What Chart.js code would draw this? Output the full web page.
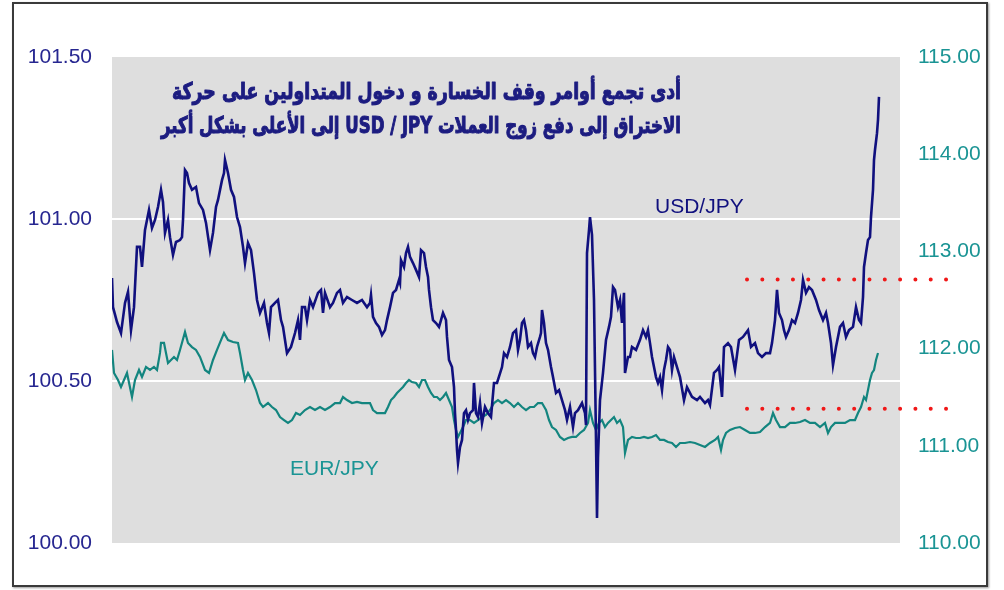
<!DOCTYPE html>
<html><head><meta charset="utf-8">
<script src="https://cdn.jsdelivr.net/npm/chart.js@4.4.1/dist/chart.umd.min.js"></script>
<style>
html,body{margin:0;padding:0;background:#fff;}
#wrap{position:relative;width:1004px;height:590px;}
#frame{position:absolute;left:12px;top:2px;width:976px;height:585px;border:2px solid #3a3a3a;box-sizing:border-box;box-shadow:1px 1px 2px #999;}
canvas{position:absolute;left:0;top:0;}
</style></head>
<body><div id="wrap"><div id="frame"></div><canvas id="c" width="1004" height="590"></canvas></div>
<script>
// time index (session steps) and USD/JPY-style navy series (left axis)
const usdT = [0,1,5,9,13,16,19,22,25,28,30,33,35,37,40,43,46,49,51,53,56,58,61,64,68,70,71,73,75,77,80,84,87,91,94,98,101,104,106,110,112,113,116,119,122,125,128,131,133,136,139,142,145,148,152,155,157,159,163,166,169,171,175,179,183,186,188,190,193,195,198,201,206,209,211,213,218,221,225,228,231,235,240,245,250,255,258,259,261,264,267,270,273,275,278,281,284,287,288,289,292,294,296,298,301,304,307,309,312,314,316,317,319,321,324,327,329,331,334,335,337,340,342,343,344,345,346,348,350,352,354,356,358,361,362,364,366,368,370,373,376,379,382,385,390,392,395,398,401,404,406,408,410,412,414,416,419,421,423,425,428,429,430,432,434,436,439,441,444,447,450,453,455,458,461,463,466,470,473,474,475,477,478,480,482,484,485,486,488,491,494,497,499,501,503,506,508,510,512,513,516,518,520,524,528,531,534,536,538,540,542,544,546,548,550,552,554,556,558,560,562,565,568,572,575,580,585,588,593,596,598,602,605,607,610,612,616,619,623,627,631,636,639,643,646,650,654,658,660,663,665,667,670,672,674,677,680,683,686,689,691,694,697,700,704,707,711,714,716,719,721,724,728,731,734,737,741,744,747,749,751,752,754,756,758,759,761,762,763,765,766,767];
const usdVal = [100.818,100.728,100.682,100.648,100.741,100.775,100.657,100.728,100.914,100.914,100.852,100.966,100.997,101.028,100.972,100.997,101.037,101.090,101.052,100.957,100.997,100.944,100.889,100.929,100.935,100.944,100.997,101.151,101.142,101.111,101.090,101.099,101.049,101.028,100.988,100.904,100.957,101.037,101.059,101.120,101.142,101.182,101.142,101.090,101.068,101.006,100.975,100.914,100.864,100.926,100.904,100.833,100.750,100.710,100.741,100.679,100.648,100.728,100.741,100.750,100.688,100.667,100.586,100.605,100.648,100.688,100.627,100.728,100.728,100.688,100.750,100.728,100.772,100.781,100.710,100.772,100.728,100.741,100.772,100.781,100.741,100.759,100.750,100.741,100.750,100.728,100.741,100.765,100.698,100.679,100.667,100.642,100.657,100.688,100.728,100.772,100.781,100.812,100.802,100.873,100.852,100.895,100.914,100.883,100.864,100.843,100.821,100.904,100.895,100.852,100.821,100.781,100.728,100.688,100.679,100.667,100.688,100.710,100.688,100.636,100.565,100.543,100.481,100.401,100.349,100.287,100.247,100.296,100.318,100.401,100.410,100.380,100.401,100.410,100.494,100.401,100.389,100.432,100.370,100.420,100.401,100.389,100.494,100.494,100.543,100.586,100.574,100.605,100.648,100.657,100.596,100.627,100.679,100.688,100.657,100.605,100.617,100.586,100.574,100.605,100.636,100.648,100.719,100.679,100.617,100.596,100.543,100.512,100.463,100.472,100.441,100.410,100.380,100.420,100.358,100.401,100.410,100.432,100.401,100.364,100.895,100.966,101.006,100.951,100.750,100.318,100.077,100.265,100.441,100.525,100.627,100.667,100.698,100.790,100.781,100.728,100.750,100.679,100.772,100.525,100.574,100.574,100.605,100.596,100.627,100.657,100.636,100.657,100.617,100.574,100.543,100.512,100.494,100.512,100.472,100.534,100.565,100.605,100.596,100.534,100.574,100.543,100.512,100.441,100.481,100.451,100.441,100.451,100.432,100.441,100.426,100.525,100.534,100.543,100.451,100.605,100.617,100.605,100.534,100.627,100.636,100.657,100.605,100.617,100.586,100.574,100.586,100.586,100.617,100.688,100.781,100.710,100.688,100.657,100.636,100.657,100.688,100.679,100.710,100.750,100.812,100.772,100.790,100.781,100.750,100.719,100.688,100.710,100.679,100.617,100.549,100.605,100.667,100.679,100.636,100.657,100.667,100.728,100.688,100.679,100.759,100.852,100.895,100.935,100.944,101.006,101.090,101.182,101.213,101.265,101.306,101.377];

// time index and EUR/JPY-style teal series (right axis)
const eurT = [0,2,6,9,12,15,20,23,27,30,34,38,42,45,48,49,52,54,56,59,62,65,68,73,76,80,84,88,93,97,101,105,109,112,116,121,126,128,131,133,136,140,144,148,151,156,160,164,168,172,176,180,184,188,193,198,203,208,213,218,223,228,231,235,240,245,250,254,258,261,265,268,273,276,279,282,285,288,291,294,297,300,304,307,310,313,316,319,322,325,328,331,334,337,340,342,344,346,348,351,354,358,362,366,370,374,378,382,386,390,394,398,402,406,410,414,418,422,426,430,434,437,440,444,448,452,456,460,464,468,472,476,478,481,484,487,490,493,496,499,502,505,508,511,513,516,520,524,528,532,536,540,544,548,552,556,560,564,568,573,578,583,588,593,598,603,606,609,611,614,618,623,628,633,638,643,648,653,658,661,664,668,673,678,683,688,693,698,703,708,713,716,719,723,728,733,738,743,746,749,752,754,756,758,760,762,764,766];
const eurVal = [111.986,111.749,111.677,111.605,111.677,111.749,111.502,111.677,111.780,111.708,111.811,111.780,111.811,111.780,111.955,112.058,112.058,111.955,111.852,111.883,111.914,111.883,111.986,112.171,112.058,112.016,111.986,111.914,111.780,111.749,111.883,111.986,112.088,112.160,112.088,112.068,112.058,111.955,111.780,111.677,111.749,111.677,111.574,111.440,111.399,111.440,111.399,111.368,111.296,111.265,111.235,111.265,111.337,111.317,111.368,111.399,111.368,111.399,111.368,111.399,111.440,111.440,111.502,111.471,111.440,111.451,111.440,111.440,111.440,111.368,111.337,111.337,111.337,111.399,111.471,111.502,111.543,111.574,111.605,111.646,111.677,111.656,111.646,111.605,111.677,111.677,111.605,111.543,111.502,111.502,111.471,111.502,111.543,111.471,111.399,111.265,111.163,111.091,111.132,111.193,111.265,111.265,111.235,111.265,111.296,111.317,111.368,111.440,111.471,111.440,111.471,111.440,111.399,111.440,111.399,111.368,111.399,111.399,111.440,111.440,111.368,111.265,111.193,111.163,111.091,111.060,111.080,111.091,111.091,111.132,111.163,111.235,111.368,111.235,111.163,111.235,111.265,111.193,111.235,111.265,111.296,111.235,111.265,111.193,110.926,111.060,111.091,111.080,111.080,111.091,111.080,111.091,111.111,111.060,111.060,111.039,111.029,110.988,111.029,111.029,111.039,111.029,111.008,110.988,111.029,111.060,111.091,110.957,111.060,111.132,111.163,111.183,111.193,111.163,111.132,111.132,111.142,111.193,111.235,111.337,111.265,111.193,111.193,111.235,111.235,111.245,111.265,111.235,111.235,111.193,111.235,111.132,111.193,111.235,111.235,111.235,111.265,111.265,111.337,111.399,111.502,111.471,111.574,111.677,111.749,111.780,111.883,111.955];

// levels (right axis) marked with red dots
const levelT = [635, 838];
const upperLevel = [112.71, 112.71];
const lowerLevel = [111.38, 111.38];

const leftTicks = [100.0, 100.5, 101.0, 101.5];
const rightTicks = [110, 111, 112, 113, 114, 115];

const titleLines = ["أدى تجمع أوامر وقف الخسارة و دخول المتداولين على حركة",
                    "الاختراق إلى دفع زوج العملات USD / JPY إلى الأعلى بشكل أكبر"];
const usdName = "USD/JPY", eurName = "EUR/JPY";

const NAVY = "#10107e", TEAL = "#13857f";
const pts = (t, v) => t.map((x, i) => ({x: x, y: v[i]}));

const bgPlugin = {
  id: 'bg',
  beforeDraw(chart) {
    const {ctx, chartArea: a} = chart;
    ctx.save(); ctx.fillStyle = '#dedede';
    ctx.fillRect(a.left, a.top, a.right - a.left, a.bottom - a.top);
    ctx.restore();
  },
  afterDraw(chart) {
    const {ctx} = chart;
    const xs = chart.scales.x, yl = chart.scales.yL, yr = chart.scales.yR;
    ctx.save();
    ctx.font = '21px "Liberation Sans", Arial, sans-serif';
    ctx.textBaseline = 'middle';
    ctx.fillStyle = NAVY; ctx.textAlign = 'left';
    ctx.fillText(usdName, xs.getPixelForValue(543), yl.getPixelForValue(101.037));
    ctx.fillStyle = '#1a9494';
    ctx.fillText(eurName, xs.getPixelForValue(178), yr.getPixelForValue(110.76));
    // title (bold, horizontally fitted)
    const size = 23;
    ctx.font = 'bold ' + size + 'px "DejaVu Sans", sans-serif';
    ctx.direction = 'rtl'; ctx.textAlign = 'right';
    const xr = xs.getPixelForValue(569);
    const ys = [yl.getPixelForValue(101.389), yl.getPixelForValue(101.284)];
    ctx.fillStyle = '#1c1c80'; ctx.strokeStyle = '#1c1c80';
    ctx.lineWidth = 1.1; ctx.lineJoin = 'round';
    titleLines.forEach((s, i) => {
      const w = ctx.measureText(s).width;
      const sx = (i === 0 ? 509 : 520) / w;
      ctx.save();
      ctx.translate(xr, ys[i]);
      ctx.scale(sx, 1);
      ctx.strokeText(s, 0, 0);
      ctx.fillText(s, 0, 0);
      ctx.restore();
    });
    ctx.restore();
  }
};

new Chart(document.getElementById('c'), {
  type: 'line',
  data: {
    datasets: [
      {label: usdName, data: pts(usdT, usdVal), yAxisID: 'yL', borderColor: NAVY, borderWidth: 2.6, pointRadius: 0, tension: 0},
      {label: eurName, data: pts(eurT, eurVal), yAxisID: 'yR', borderColor: TEAL, borderWidth: 2.2, pointRadius: 0, tension: 0},
      {label: 'upper', data: pts(levelT, upperLevel), yAxisID: 'yR', borderColor: '#f01818', borderWidth: 4, borderDash: [0.01, 15.3], borderCapStyle: 'round', pointRadius: 0, clip: false},
      {label: 'lower', data: pts(levelT, lowerLevel), yAxisID: 'yR', borderColor: '#f01818', borderWidth: 4, borderDash: [0.01, 15.3], borderCapStyle: 'round', pointRadius: 0, clip: false}
    ]
  },
  options: {
    responsive: false, animation: false,
    layout: {padding: {left: 0, right: 0, top: 57, bottom: 47}},
    plugins: {legend: {display: false}, tooltip: {enabled: false}, title: {display: false}},
    scales: {
      x: {type: 'linear', min: 0, max: 788, display: false},
      yL: {
        position: 'left', min: 100, max: 101.5,
        afterFit(s) { s.width = 112; },
        afterBuildTicks(s) { s.ticks = leftTicks.map(v => ({value: v})); },
        border: {display: false},
        grid: {drawTicks: false, lineWidth: 2,
               color: c => (c.tick && c.tick.value > 100 && c.tick.value < 101.5) ? '#ffffff' : 'rgba(0,0,0,0)'},
        ticks: {padding: 20, color: '#262690', font: {family: '"Liberation Sans", Arial, sans-serif', size: 21},
                callback: v => Number(v).toFixed(2)}
      },
      yR: {
        position: 'right', min: 110, max: 115,
        afterFit(s) { s.width = 104; },
        afterBuildTicks(s) { s.ticks = rightTicks.map(v => ({value: v})); },
        border: {display: false},
        grid: {display: false, drawTicks: false},
        ticks: {padding: 18, color: '#1a9494', font: {family: '"Liberation Sans", Arial, sans-serif', size: 21},
                callback: v => Number(v).toFixed(2)}
      }
    }
  },
  plugins: [bgPlugin]
});
</script></body></html>
